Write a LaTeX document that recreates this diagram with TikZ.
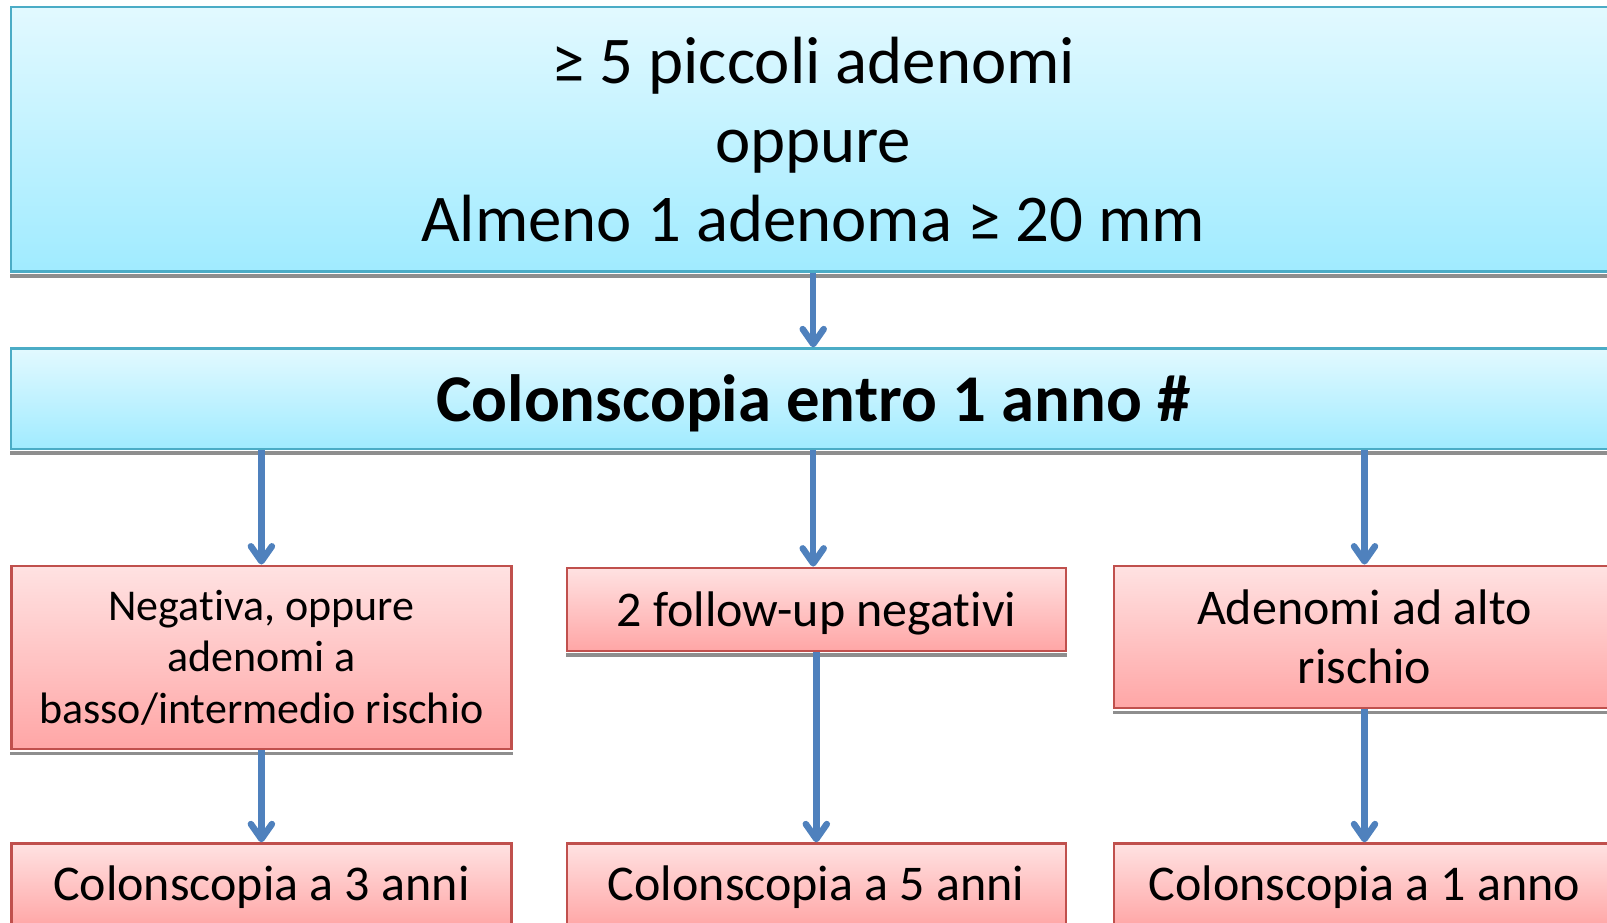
\documentclass[tikz,border=0pt]{standalone}
\usepackage{fontspec}
\setmainfont[RawFeature={-liga}]{Carlito}
\usetikzlibrary{arrows.meta}
\definecolor{bluebd}{HTML}{4BACC6}
\definecolor{bluetop}{HTML}{E2F9FF}
\definecolor{bluebot}{HTML}{A0EBFF}
\definecolor{pinkbd}{HTML}{C0504D}
\definecolor{pinktop}{HTML}{FFE2E2}
\definecolor{pinkbot}{HTML}{FFA6A6}
\definecolor{arrowc}{HTML}{4F81BD}
\definecolor{shadowc}{HTML}{8E8E8E}
\tikzset{
  box/.style={rectangle, inner sep=0pt, align=center, line width=2.4pt},
  bluebox/.style={box, draw=bluebd, top color=bluetop, bottom color=bluebot},
  pinkbox/.style={box, draw=pinkbd, top color=pinktop, bottom color=pinkbot},
  conn/.style={draw=arrowc, line width=6.5pt, -{Straight Barb[length=15pt,width=21pt,round]}},
  bigfont/.style={font={\fontsize{66.8}{79}\selectfont}},
  midfont/.style={font={\fontsize{50}{59.5}\selectfont}},
  smallfont/.style={font={\fontsize{44}{51.5}\selectfont}},
}
\newcommand{\boxshadow}[1]{\fill[shadowc] ([yshift=-1.2pt]#1.south west) rectangle ([yshift=-5pt]#1.south east);}
\newcommand{\lowered}[2]{\raisebox{-#1}[\height][\depth]{#2}}
\begin{document}
\begin{tikzpicture}[x=1pt,y=-1pt]
\useasboundingbox (0,0) rectangle (1607,922);
\clip (0,0) rectangle (1607,922);
% boxes
\node[bluebox, bigfont, minimum width=1604pt, minimum height=264.4pt] (top) at (813.2,139.4)
  {≥ 5 piccoli adenomi\\oppure\\Almeno 1 adenoma ≥ 20 mm};
\node[bluebox, bigfont, minimum width=1604pt, minimum height=100.5pt] (mid) at (813.2,398.8)
  {\lowered{5pt}{\bfseries Colonscopia entro 1 anno \#}};
\node[pinkbox, smallfont, minimum width=500pt, minimum height=183.5pt] (a) at (261.4,657.5)
  {Negativa, oppure\\adenomi a\\basso/intermedio rischio};
\node[pinkbox, midfont, minimum width=499pt, minimum height=83pt] (b) at (816.3,609.3)
  {\lowered{4pt}{2 follow-up negativi}};
\node[pinkbox, midfont, minimum width=501pt, minimum height=142.5pt] (c) at (1364.5,637)
  {Adenomi ad alto\\rischio};
\node[pinkbox, midfont, minimum width=500pt, minimum height=83pt] (a3) at (261.4,885)
  {\lowered{2pt}{Colonscopia a 3 anni}};
\node[pinkbox, midfont, minimum width=499pt, minimum height=83pt] (b3) at (816.3,885)
  {\lowered{2pt}{Colonscopia a 5 anni}};
\node[pinkbox, midfont, minimum width=501pt, minimum height=83pt] (c3) at (1364.5,885)
  {\lowered{2pt}{Colonscopia a 1 anno}};
% shadows
\boxshadow{top}
\boxshadow{mid}
\boxshadow{a}
\boxshadow{b}
\boxshadow{c}
% connectors
\draw[conn] (top.south) -- (mid.north);
\draw[conn] (mid.south -| a.north) -- (a.north);
\draw[conn] (mid.south) -- (mid.south |- b.north);
\draw[conn] (mid.south -| c.north) -- (c.north);
\draw[conn] (a.south) -- (a3.north);
\draw[conn] (b.south) -- (b3.north);
\draw[conn] (c.south) -- (c3.north);
\end{tikzpicture}
\end{document}
